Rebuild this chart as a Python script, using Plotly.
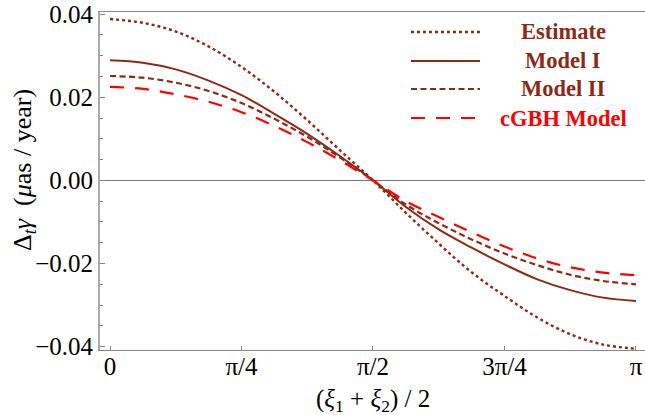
import plotly.graph_objects as go

# x positions (radians), read at steps of pi/16
theta = [0.0, 0.1963, 0.3927, 0.5890, 0.7854, 0.9817, 1.1781, 1.3744, 1.5708,
         1.7671, 1.9635, 2.1598, 2.3562, 2.5525, 2.7489, 2.9452, 3.1416]

estimate = [0.0388, 0.0379, 0.0358, 0.0322, 0.0273, 0.0213, 0.0145, 0.0072, 0.0,
            -0.0078, -0.0152, -0.0221, -0.0278, -0.0330, -0.0370, -0.0395, -0.0405]
model_1 = [0.0289, 0.0283, 0.0267, 0.0240, 0.0205, 0.0160, 0.0112, 0.0058, 0.0,
           -0.0064, -0.0118, -0.0162, -0.0202, -0.0238, -0.0264, -0.0282, -0.0290]
model_2 = [0.0251, 0.0247, 0.0235, 0.0215, 0.0186, 0.0148, 0.0105, 0.0055, 0.0,
           -0.0058, -0.0103, -0.0142, -0.0176, -0.0204, -0.0227, -0.0242, -0.0250]
cgbh = [0.0225, 0.0220, 0.0207, 0.0189, 0.0164, 0.0131, 0.0092, 0.0048, 0.0,
        -0.0050, -0.0088, -0.0125, -0.0159, -0.0188, -0.0209, -0.0222, -0.0228]

x_tickvals = [0.0, 0.7854, 1.5708, 2.3562, 3.1416]
x_ticktext = ["0", "π/4", "π/2", "3π/4", "π"]
y_tickvals = [0.04, 0.02, 0.0, -0.02, -0.04]
y_ticktext = ["0.04", "0.02", "0.00", "\u22120.02", "\u22120.04"]

names = ["Estimate", "Model I", "Model II", "cGBH Model"]
BROWN = "#8C2A16"
RED = "#FF0000"
colors = [BROWN, BROWN, BROWN, RED]
dashes = ["3px,3px", "solid", "6px,3.5px", "14px,11px"]
widths = [2.4, 2.0, 2.2, 2.2]
series = [estimate, model_1, model_2, cgbh]

SERIF = "Liberation Serif"

fig = go.Figure()
for name, ys, c, d, w in zip(names, series, colors, dashes, widths):
    fig.add_trace(go.Scatter(x=theta, y=ys, mode="lines", name=name,
                             line=dict(color=c, dash=d, width=w, shape="spline", smoothing=1.0),
                             showlegend=False, hoverinfo="skip"))

W, H = 645, 415
ml, mt, mr = 100, 12, 0
mb = H - 350

fig.update_layout(
    width=W, height=H,
    margin=dict(l=ml, r=mr, t=mt, b=mb, autoexpand=False),
    paper_bgcolor="white", plot_bgcolor="white",
    font=dict(family=SERIF, color="black"),
    xaxis=dict(range=[-0.0597, 3.1954], tickvals=x_tickvals, ticktext=x_ticktext,
               ticks="inside", ticklen=4, tickcolor="#888", tickwidth=1,
               showline=True, linecolor="#888", linewidth=1, mirror=True,
               showgrid=False, zeroline=False, automargin=False,
               ticklabeloverflow="allow", ticklabelstandoff=-6,
               tickfont=dict(family=SERIF, size=25)),
    yaxis=dict(range=[-0.0408, 0.0405], tickvals=y_tickvals, ticktext=y_ticktext,
               ticks="inside", ticklen=5, tickcolor="#888", tickwidth=1,
               minor=dict(dtick=0.005, ticks="inside", ticklen=3, tickcolor="#888"),
               showline=True, linecolor="#AAAAAA", linewidth=2, mirror=False,
               showgrid=False, zeroline=True, zerolinecolor="#777", zerolinewidth=1,
               automargin=False, ticklabeloverflow="allow",
               tickfont=dict(family=SERIF, size=25)),
)

def px_x(p):
    return (p - ml) / (W - ml - mr)

def px_y(p):
    return 1 - (p - mt) / (H - mt - mb)

# axis titles
fig.add_annotation(xref="paper", yref="paper", x=px_x(373), y=px_y(400),
                   text="(<i>ξ</i><sub>1</sub> + <i>ξ</i><sub>2</sub>) / 2",
                   showarrow=False, font=dict(family=SERIF, size=25),
                   xanchor="center", yanchor="middle")
fig.add_annotation(xref="paper", yref="paper", x=px_x(24), y=px_y(170),
                   text="Δ<sub><i>t</i></sub><i>γ</i>  (<i>μ</i>as / year)",
                   textangle=-90, showarrow=False, font=dict(family=SERIF, size=26),
                   xanchor="center", yanchor="middle")

# legend
rows = [32, 61, 89, 118]
for name, c, d, w, yy in zip(names, colors, dashes, widths, rows):
    fig.add_shape(type="line", xref="paper", yref="paper",
                  x0=px_x(411), x1=px_x(480), y0=px_y(yy), y1=px_y(yy),
                  line=dict(color=c, dash=d, width=w))
    fig.add_annotation(xref="paper", yref="paper", x=px_x(563), y=px_y(yy),
                       text="<b>%s</b>" % name, showarrow=False,
                       font=dict(family=SERIF, size=22.5, color=c),
                       xanchor="center", yanchor="middle")

fig.write_html("out.html", config={"displayModeBar": False},
               post_script="document.body.style.margin='0';document.body.style.overflow='hidden';")
